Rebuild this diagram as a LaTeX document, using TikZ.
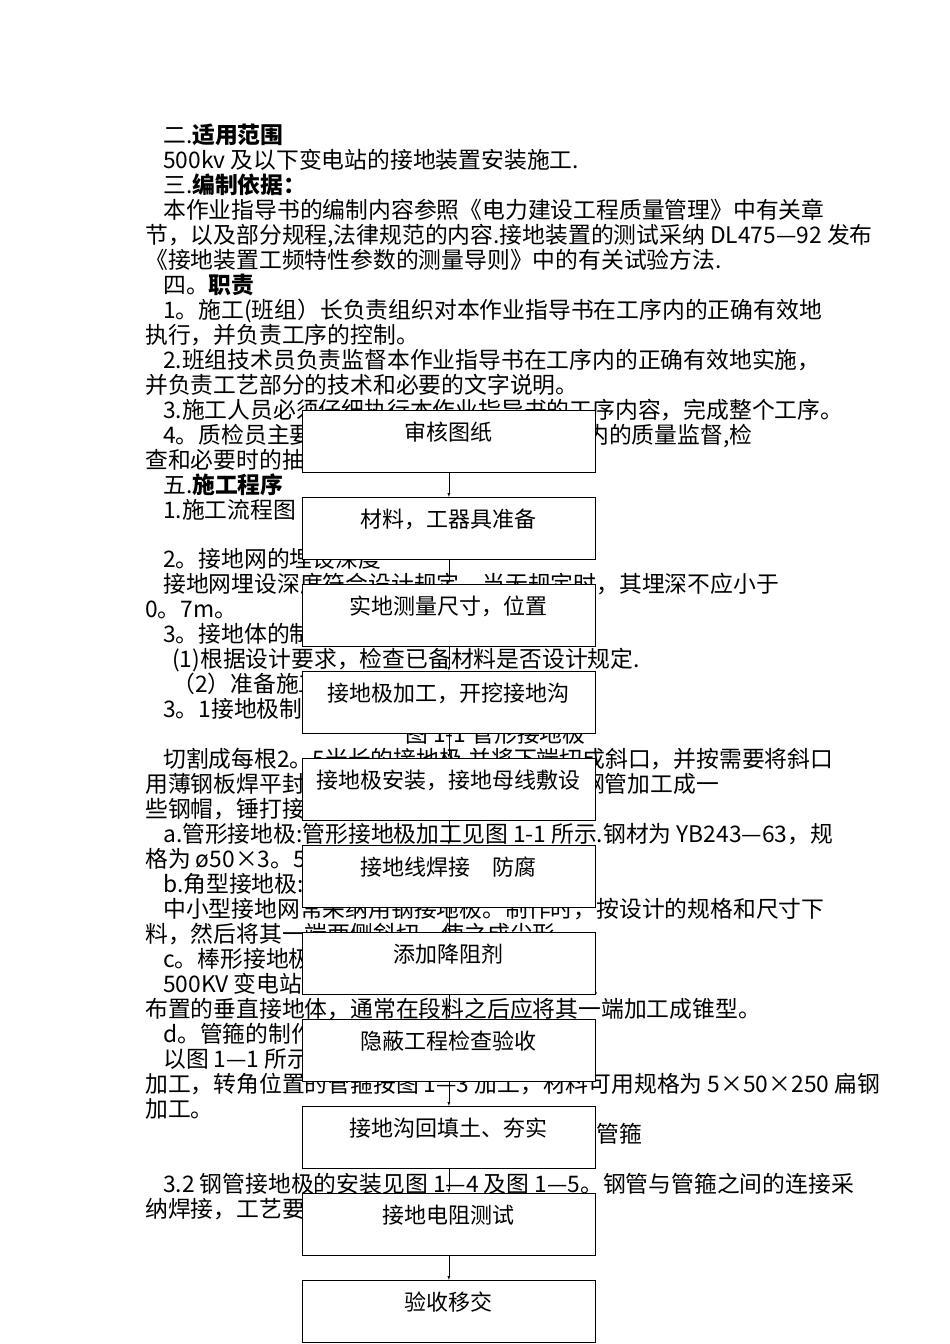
\documentclass[tikz,border=0pt]{standalone}
\usepackage{fontspec}
\usetikzlibrary{calc}
\setmainfont{Liberation Serif}
\newfontfamily\cjk{Noto Sans CJK SC}
\begin{document}
\begin{tikzpicture}[x=1pt,y=-1pt,
  ln/.style={anchor=base west,inner sep=0pt,font=\cjk\fontsize{22.8}{22.8}\selectfont},
  fbox/.style={draw,thick,fill=white,minimum width=293pt,minimum height=62pt,anchor=north west,inner sep=0pt},
  btxt/.style={font=\cjk\fontsize{22}{22}\selectfont,anchor=center},
  arr/.style={-latex,thin}]
\useasboundingbox[fill=white] (0,0) rectangle (950,1344);
\node[ln] at (163,143) {二.\textbf{适用范围}};
\node[ln] at (163,168) {500kv 及以下变电站的接地装置安装施工.};
\node[ln] at (163,193) {三.\textbf{编制依据：}};
\node[ln] at (163,218) {本作业指导书的编制内容参照《电力建设工程质量管理》中有关章};
\node[ln] at (145,243) {节，以及部分规程,法律规范的内容.接地装置的测试采纳 DL475—92 发布};
\node[ln] at (145,268) {《接地装置工频特性参数的测量导则》中的有关试验方法.};
\node[ln] at (163,293) {四。\textbf{职责}};
\node[ln] at (163,318) {1。施工(班组）长负责组织对本作业指导书在工序内的正确有效地};
\node[ln] at (145,343) {执行，并负责工序的控制。};
\node[ln] at (163,368) {2.班组技术员负责监督本作业指导书在工序内的正确有效地实施，};
\node[ln] at (145,393) {并负责工艺部分的技术和必要的文字说明。};
\node[ln] at (163,418) {3.施工人员必须仔细执行本作业指导书的工序内容，完成整个工序。};
\node[ln] at (163,443) {4。质检员主要负责本作业指导书涉及工序内的质量监督,检};
\node[ln] at (145,468) {查和必要时的抽查。};
\node[ln] at (163,493) {五.\textbf{施工程序}};
\node[ln] at (163,518) {1.施工流程图};
\node[ln] at (163,567) {2。接地网的埋设深度};
\node[ln] at (163,592) {接地网埋设深度符合设计规定，当无规定时，其埋深不应小于};
\node[ln] at (145,617) {0。7m。};
\node[ln] at (163,642) {3。接地体的制作};
\node[ln] at (172,667) {(1)根据设计要求，检查已备材料是否设计规定.};
\node[ln] at (172,692) {（2）准备施工机具、工具等。};
\node[ln] at (163,717) {3。1接地极制作};
\node[ln] at (405,742) {图 1-1 管形接地极};
\node[ln] at (163,767) {切割成每根2。5米长的接地极,并将下端切成斜口，并按需要将斜口};
\node[ln] at (145,792) {用薄钢板焊平封口，钢管接地极还需用 ø70 钢管加工成一};
\node[ln] at (145,817) {些钢帽，锤打接地极用。};
\node[ln] at (163,842) {a.管形接地极:管形接地极加工见图 1-1 所示.钢材为 YB243—63，规};
\node[ln] at (145,867) {格为 ø50×3。5×2500。};
\node[ln] at (163,892) {b.角型接地极:};
\node[ln] at (163,917) {中小型接地网常采纳用钢接地极。制作时，按设计的规格和尺寸下};
\node[ln] at (145,942) {料，然后将其一端两侧斜切，使之成尖形.};
\node[ln] at (163,967) {c。棒形接地极};
\node[ln] at (163,992) {500KV 变电站的构架和主变区等处作为加强};
\node[ln] at (145,1017) {布置的垂直接地体，通常在段料之后应将其一端加工成锥型。};
\node[ln] at (163,1042) {d。管箍的制作};
\node[ln] at (163,1067) {以图 1—1 所示的管形接地的管箍按图 1-2};
\node[ln] at (145,1092) {加工，转角位置的管箍按图 1—3 加工，材料可用规格为 5×50×250 扁钢};
\node[ln] at (145,1117) {加工。};
\node[ln] at (462,1142) {图 1-2 接地体管箍};
\node[ln] at (440,1167) {图 1-3 转角管箍};
\node[ln] at (163,1192) {3.2 钢管接地极的安装见图 1—4 及图 1—5。钢管与管箍之间的连接采};
\node[ln] at (145,1217) {纳焊接，工艺要求如下：};
% flow boxes
\foreach \i/\t in {1/审核图纸,2/{材料，工器具准备},3/{实地测量尺寸，位置},4/{接地极加工，开挖接地沟},5/{接地极安装，接地母线敷设},6/{接地线焊接\quad 防腐},7/添加降阻剂,8/隐蔽工程检查验收,9/{接地沟回填土、夯实},10/接地电阻测试,11/验收移交}{
  \node[fbox] (b\i) at (302,{410+(\i-1)*87}) {};
  \node[btxt] (t\i) at ($(b\i.north)+(0,22)$) {\t};
}
\foreach \i [evaluate=\i as \j using int(\i+1)] in {1,...,10}{
  \draw[arr] (b\i.south) -- (b\j.north);
}
\end{tikzpicture}
\end{document}
